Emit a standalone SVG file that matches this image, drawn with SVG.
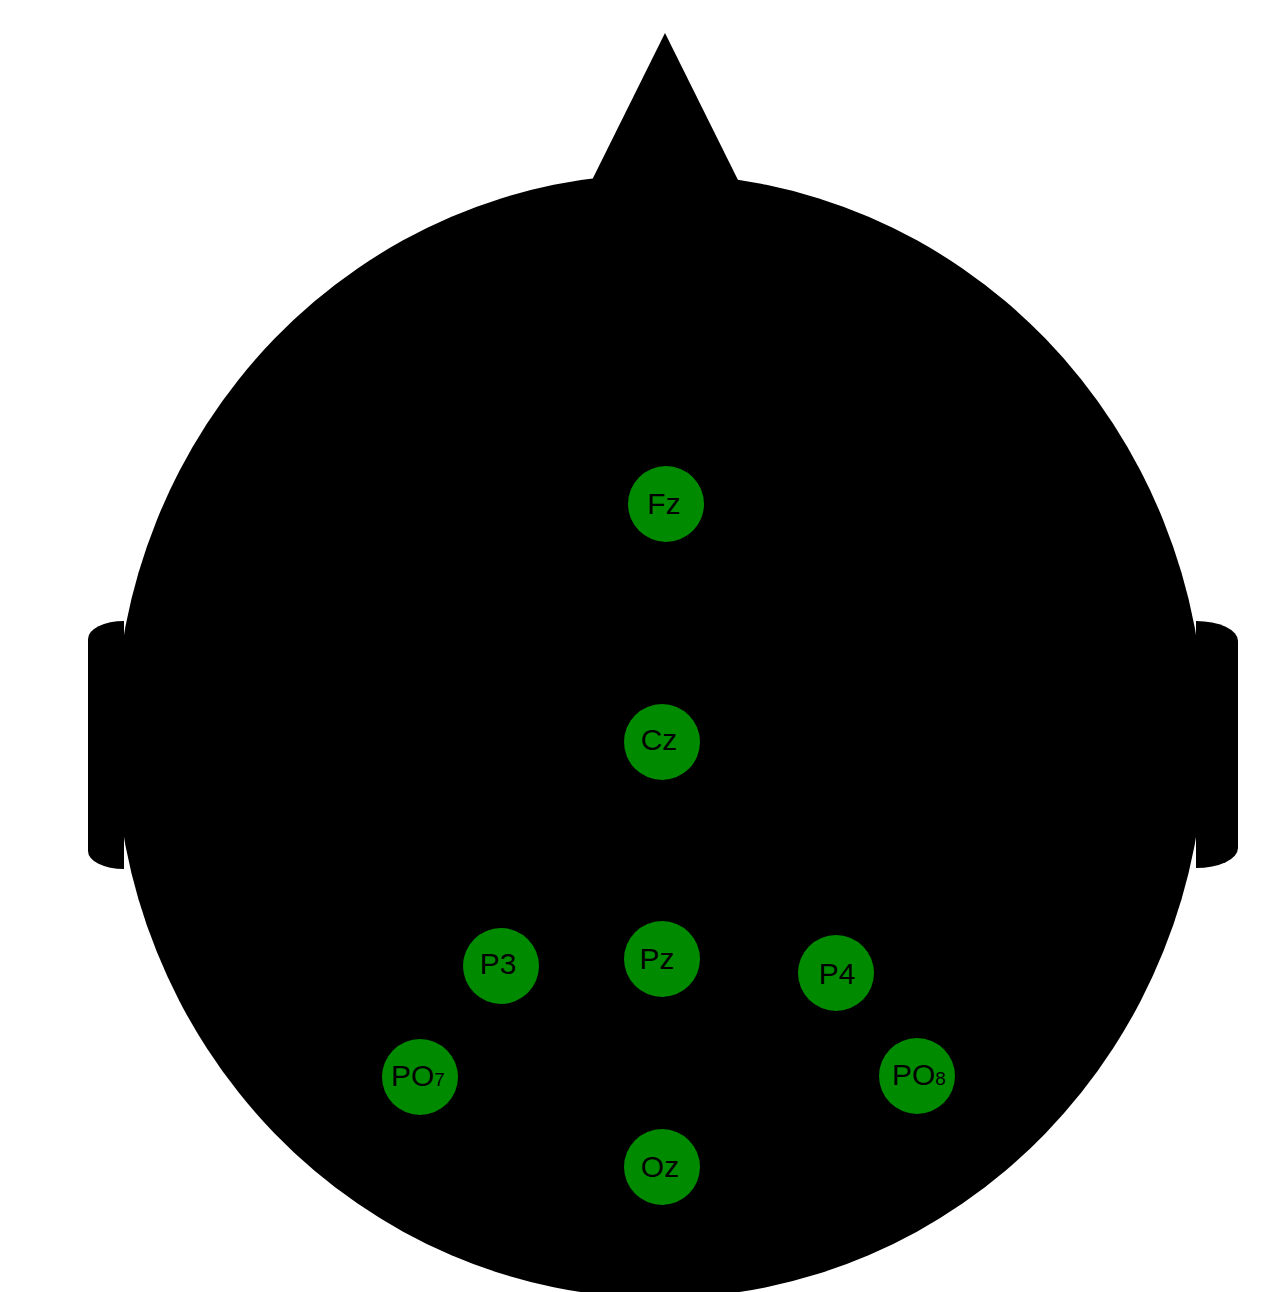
<svg xmlns="http://www.w3.org/2000/svg" width="1281" height="1292" viewBox="0 0 1281 1292">
<style>
.head{fill:#000}
.el{fill:#008a00}
.lbl{font-family:"Liberation Sans",Arial,sans-serif;font-size:30px;fill:#000;text-anchor:middle}
.lbs{font-family:"Liberation Sans",Arial,sans-serif;font-size:30px;fill:#000}
.sub{font-size:19px}
</style>
<rect width="1281" height="1292" fill="#fff"/>
<g id="head">
<polygon class="head" points="665,33 738,180 738,300 593,300 593,178"/>
<path class="head" d="M124,621 A36,18 0 0 0 88,639 L88,851 A36,18 0 0 0 124,869 Z"/>
<path class="head" d="M1196,621 A42,20 0 0 1 1238,641 L1238,848 A42,20 0 0 1 1196,868 Z"/>
<ellipse class="head" cx="660" cy="736" rx="545" ry="562"/>
</g>
<g id="connectors"/>
<g id="Fz"><circle class="el" cx="666" cy="504" r="38"/><text class="lbl" x="664" y="514">Fz</text></g>
<g id="Cz"><circle class="el" cx="662" cy="742" r="38"/><text class="lbl" x="659" y="750">Cz</text></g>
<g id="Pz"><circle class="el" cx="662" cy="959" r="38"/><text class="lbl" x="657" y="969">Pz</text></g>
<g id="P3"><circle class="el" cx="501" cy="966" r="38"/><text class="lbl" x="498" y="974">P3</text></g>
<g id="P4"><circle class="el" cx="836" cy="973" r="38"/><text class="lbl" x="837" y="984">P4</text></g>
<g id="PO7"><circle class="el" cx="420" cy="1077" r="38"/><text class="lbs" x="391" y="1086">PO<tspan class="sub">7</tspan></text></g>
<g id="PO8"><circle class="el" cx="917" cy="1076" r="38"/><text class="lbs" x="892" y="1085">PO<tspan class="sub">8</tspan></text></g>
<g id="Oz"><circle class="el" cx="662" cy="1167" r="38"/><text class="lbl" x="660" y="1177">Oz</text></g>
</svg>
